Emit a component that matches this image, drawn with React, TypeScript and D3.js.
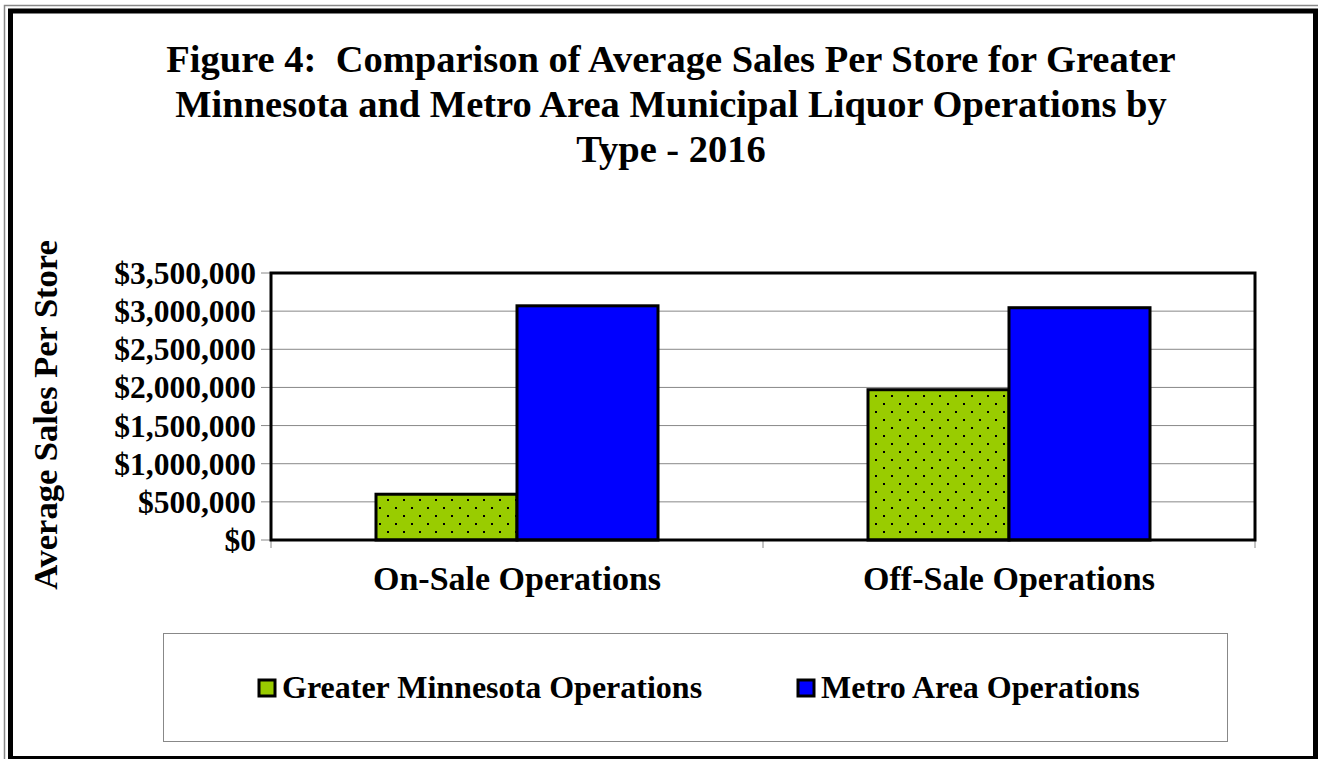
import React from 'react';
import * as d3 from 'd3';

const categories = ['On-Sale Operations', 'Off-Sale Operations'];
const seriesNames = ['Greater Minnesota Operations', 'Metro Area Operations'];
const greaterMN = [600000, 1970000];
const metroArea = [3070000, 3045000];
const yTicks = [0, 500000, 1000000, 1500000, 2000000, 2500000, 3000000, 3500000];
const titleLines = [
  'Figure 4:  Comparison of Average Sales Per Store for Greater',
  'Minnesota and Metro Area Municipal Liquor Operations by',
  'Type - 2016',
];

const W = 1318;
const H = 759;
const plot = { left: 271, top: 273, right: 1255, bottom: 540 };
const font = '"Liberation Serif", "Times New Roman", serif';
const colors = ['#99CC00', '#0000FF'];

const App = () => {
  const x = d3.scaleBand().domain(categories).range([plot.left, plot.right]);
  const y = d3.scaleLinear().domain([0, 3500000]).range([plot.bottom, plot.top]);
  const fmt = (v: number) => '$' + d3.format(',')(v);
  const barW = 141;
  const series = [greaterMN, metroArea];

  return (
    <svg width={W} height={H} style={{ position: 'absolute', left: 0, top: 0, background: '#fff' }}>
      <defs>
        <pattern id="dots" width={16} height={16} patternUnits="userSpaceOnUse">
          <rect width={16} height={16} fill={colors[0]} />
          <rect x={3} y={3} width={2} height={2} fill="#000" />
          <rect x={11} y={11} width={2} height={2} fill="#000" />
        </pattern>
      </defs>

      {/* page frame */}
      <rect x={4.5} y={5.5} width={W} height={H} fill="none" stroke="#888" strokeWidth={1.5} />
      <rect x={10.5} y={11} width={1305} height={747.5} fill="none" stroke="#000" strokeWidth={5} />

      {/* title */}
      <text textAnchor="middle" fontFamily={font} fontWeight="bold" fontSize={38.5} style={{ whiteSpace: 'pre' }}>
        {titleLines.map((t, i) => (
          <tspan key={i} x={671} y={72 + i * 45}>{t}</tspan>
        ))}
      </text>

      {/* grid + y ticks */}
      {yTicks.map((t) => (
        <g key={t}>
          <line x1={plot.left} x2={plot.right} y1={y(t)} y2={y(t)} stroke="#888" strokeWidth={1} />
          <line x1={261} x2={plot.left} y1={y(t)} y2={y(t)} stroke="#888" strokeWidth={1} />
          <text x={256} y={y(t) + 11} textAnchor="end" fontFamily={font} fontWeight="bold" fontSize={31.5}>
            {fmt(t)}
          </text>
        </g>
      ))}

      {/* category ticks */}
      {[plot.left, x(categories[1])!, plot.right].map((v, i) => (
        <line key={i} x1={v} x2={v} y1={plot.bottom} y2={plot.bottom + 8} stroke="#888" strokeWidth={1} />
      ))}

      {/* bars */}
      {categories.map((c, ci) => {
        const cx = x(c)! + x.bandwidth() / 2;
        return series.map((s, si) => (
          <rect
            key={c + si}
            x={cx - barW + si * barW}
            y={y(s[ci])}
            width={barW}
            height={plot.bottom - y(s[ci])}
            fill={si === 0 ? 'url(#dots)' : colors[1]}
            stroke="#000"
            strokeWidth={3}
          />
        ));
      })}

      {/* plot border */}
      <rect x={plot.left} y={plot.top} width={plot.right - plot.left} height={plot.bottom - plot.top}
        fill="none" stroke="#000" strokeWidth={3} />
      <line x1={plot.left} x2={plot.right} y1={plot.bottom} y2={plot.bottom} stroke="#000" strokeWidth={1.5} />

      {/* x labels */}
      {categories.map((c) => (
        <text key={c} x={x(c)! + x.bandwidth() / 2} y={590} textAnchor="middle"
          fontFamily={font} fontWeight="bold" fontSize={34}>{c}</text>
      ))}

      {/* y title */}
      <text transform={`translate(57, ${415}) rotate(-90)`} textAnchor="middle"
        fontFamily={font} fontWeight="bold" fontSize={34.5}>Average Sales Per Store</text>

      {/* legend */}
      <rect x={163.5} y={633.5} width={1064} height={108} fill="#fff" stroke="#888" strokeWidth={1} />
      {seriesNames.map((n, i) => {
        const lx = i === 0 ? 259 : 798;
        return (
          <g key={n}>
            <rect x={lx} y={680} width={16} height={16} fill={colors[i]} stroke="#000" strokeWidth={3} />
            <text x={lx + 23} y={698} fontFamily={font} fontWeight="bold" fontSize={32}>{n}</text>
          </g>
        );
      })}
    </svg>
  );
};

export default App;
